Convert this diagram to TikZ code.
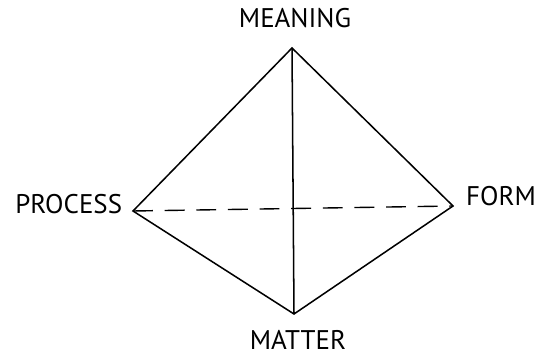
\documentclass[tikz,border=0pt]{standalone}
\usepackage{fontspec}
\setmainfont{PT Sans}
\usetikzlibrary{positioning}

\begin{document}
\begin{tikzpicture}[every node/.style={font=\fontsize{23}{26}\selectfont,inner sep=0pt}]
\useasboundingbox (0,0) rectangle (16.11,10.77);
\coordinate (v0) at (8.76,9.33);
\coordinate (v1) at (13.59,4.59);
\coordinate (v2) at (8.82,1.35);
\coordinate (v3) at (3.99,4.44);
\draw[line width=1.3pt,line join=miter] (v0)--(v1)--(v2)--(v3)--cycle;
\draw[line width=1.3pt](v0)--(v2);
\draw[line width=1.2pt,dash pattern=on 17pt off 10pt](v3)--(v1);
\node (meaning) at (8.85,10.23) {MEANING};
\node (form) at (15.03,4.89) {FORM};
\node (matter) at (8.94,0.56) {MATTER};
\node (process) at (2.06,4.65) {PROCESS};
\end{tikzpicture}
\end{document}
